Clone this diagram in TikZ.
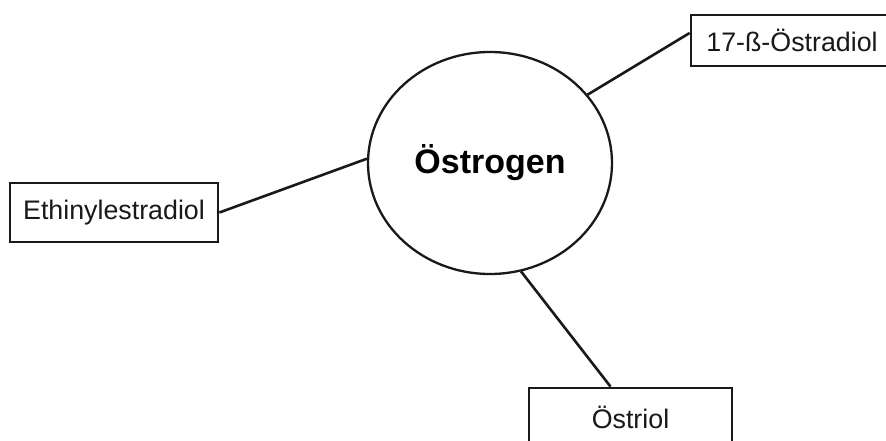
\documentclass[tikz,border=0pt]{standalone}
\usepackage{fontspec}
\setmainfont{Liberation Sans}
\usetikzlibrary{shapes.geometric,calc}
\tikzset{
  termbox/.style={draw=black!90, line width=2.8pt, fill=white, inner sep=0pt,
    font=\fontsize{26.8}{30}\selectfont, text=black!90},
  hub/.style={ellipse, draw=black!90, line width=2.3pt, fill=white, inner sep=0pt,
    font=\bfseries\fontsize{34}{40}\selectfont, text=black},
  link/.style={draw=black!90, line width=2.6pt}
}
\begin{document}
\begin{tikzpicture}[x=1pt,y=-1pt]
\clip (0,0) rectangle (886,441);
\fill[white] (0,0) rectangle (886,441);
\node[hub, minimum width=244pt, minimum height=222pt] (c) at (490,163) {Östrogen};
\node[termbox, minimum width=202pt, minimum height=51pt] (b1) at (792,40.5) {17-ß-Östradiol};
\node[termbox, minimum width=208pt, minimum height=59pt] (b2) at (114,212.5) {Ethinylestradiol};
\node[termbox, minimum width=203pt, minimum height=59pt] (b3) at (630.5,417.5) {Östriol};
\coordinate (p1) at ($(b1.west)+(0,-7.5)$);
\coordinate (p3) at ($(b3.north)+(-20,0)$);
\draw[link] (c.35) -- (p1);
\draw[link] (c.178.6) -- (b2.east);
\draw[link] (c.286.7) -- (p3);
\end{tikzpicture}
\end{document}
